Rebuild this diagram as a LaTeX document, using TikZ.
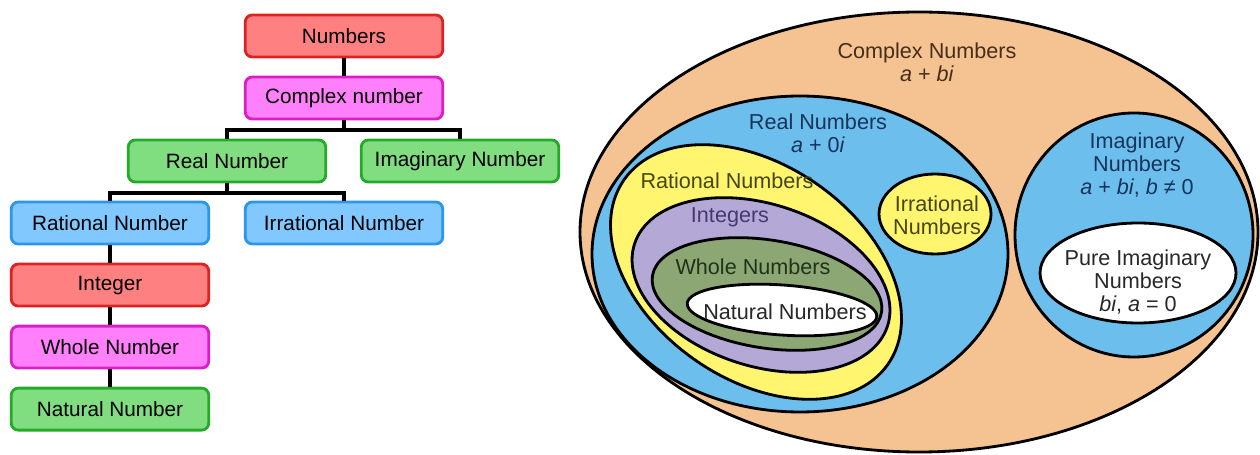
\documentclass[tikz,border=0pt]{standalone}
\usepackage{fontspec}
\setmainfont{Liberation Sans}
\usetikzlibrary{positioning}

\definecolor{boxred}{RGB}{255,128,128}
\definecolor{edgered}{RGB}{222,34,34}
\definecolor{boxpink}{RGB}{255,128,250}
\definecolor{edgepink}{RGB}{218,30,196}
\definecolor{boxgreen}{RGB}{128,222,128}
\definecolor{edgegreen}{RGB}{36,170,40}
\definecolor{boxblue}{RGB}{128,200,255}
\definecolor{edgeblue}{RGB}{44,150,232}
\definecolor{setorange}{RGB}{245,195,145}
\definecolor{setblue}{RGB}{108,190,236}
\definecolor{setyellow}{RGB}{255,245,110}
\definecolor{setpurple}{RGB}{180,168,214}
\definecolor{setgreen}{RGB}{140,166,116}
\definecolor{txtbrown}{RGB}{72,46,26}
\definecolor{txtblue}{RGB}{22,52,92}
\definecolor{txtolive}{RGB}{70,70,22}
\definecolor{txtpurple}{RGB}{70,56,112}
\definecolor{txtgreen}{RGB}{34,50,24}
\definecolor{txtgray}{RGB}{40,40,40}

\tikzset{
  box/.style={
    rectangle, rounded corners=4pt, minimum width=3.95cm, minimum height=0.84cm,
    line width=1.6pt, text centered, inner sep=2pt,
    font=\fontsize{11.8}{13}\selectfont, text=black
  },
  redbox/.style={box, draw=edgered, fill=boxred},
  pinkbox/.style={box, draw=edgepink, fill=boxpink},
  greenbox/.style={box, draw=edgegreen, fill=boxgreen},
  bluebox/.style={box, draw=edgeblue, fill=boxblue},
  link/.style={line width=2.3pt, draw=black},
  numset/.style={draw=black, line width=1.6pt},
  setlabel/.style={align=center, inner sep=0pt, font=\fontsize{12.3}{13.3}\selectfont}
}

\begin{document}
\begin{tikzpicture}[x=0.02cm, y=-0.02cm, node distance=0.345cm]
  \useasboundingbox (0,0) rectangle (1260,455);

  % tree of the number sets
  \node[redbox]                      (numbers)  at (344,36)  {Numbers};
  \node[pinkbox, below=of numbers]   (complex)                {Complex number};
  \node[greenbox]                    (real)     at (227,161) {Real Number};
  \node[greenbox]                    (imag)     at (460,161) {Imaginary Number};
  \node[bluebox]                     (rational) at (110,223) {Rational Number};
  \node[bluebox]                     (irrat)    at (344,223) {Irrational Number};
  \node[redbox, below=of rational]   (integer)                {Integer};
  \node[pinkbox, below=of integer]   (whole)                  {Whole Number};
  \node[greenbox, below=of whole]    (natural)                {Natural Number};

  \draw[link] (numbers) -- (complex);
  \draw[link] (complex.south) -- ++(0,10) -| (real.north);
  \draw[link] (complex.south) -- ++(0,10) -| (imag.north);
  \draw[link] (real.south) -- ++(0,10) -| (rational.north);
  \draw[link] (real.south) -- ++(0,10) -| (irrat.north);
  \draw[link] (rational) -- (integer);
  \draw[link] (integer) -- (whole);
  \draw[link] (whole) -- (natural);

  % nested sets
  \draw[numset, fill=setorange] (919,232) ellipse [x radius=339, y radius=220];
  \draw[numset, fill=setblue]   (800,254) ellipse [x radius=208, y radius=158];
  \draw[numset, fill=setblue]   (1134,235) ellipse [x radius=119, y radius=122];
  \draw[numset, fill=setyellow, rotate around={-35:(756,272)}]
    (756,272) ellipse [x radius=161, y radius=107];
  \draw[numset, fill=setpurple, rotate around={-18:(761,285)}]
    (761,285) ellipse [x radius=133, y radius=81];
  \draw[numset, fill=setgreen, rotate around={-9:(767,294)}]
    (767,294) ellipse [x radius=116, y radius=54];
  \draw[numset, fill=white, rotate around={-4:(782,310)}]
    (782,310) ellipse [x radius=95, y radius=25];
  \draw[numset, fill=setyellow] (935,214) ellipse [x radius=56, y radius=40];
  \draw[numset, fill=white]     (1138,273) ellipse [x radius=98, y radius=50];

  \node[setlabel, text=txtbrown]  (lcomplex)  at (927,62)   {Complex Numbers\\\textit{a} + \textit{bi}};
  \node[setlabel, text=txtblue]   (lreal)     at (818,133)  {Real Numbers\\\textit{a} + 0\textit{i}};
  \node[setlabel, text=txtolive]  (lrational) at (727,181)  {Rational Numbers};
  \node[setlabel, text=txtpurple] (linteger)  at (730,217)  {Integers};
  \node[setlabel, text=txtgreen]  (lwhole)    at (753,267)  {Whole Numbers};
  \node[setlabel, text=txtgray]   (lnatural)  at (785,312)  {Natural Numbers};
  \node[setlabel, text=txtolive]  (lirrat)    at (937,215)  {Irrational\\Numbers};
  \node[setlabel, text=txtblue]   (limag)     at (1137,165) {Imaginary\\Numbers\\\textit{a} + \textit{bi}, \textit{b} ≠ 0};
  \node[setlabel, text=txtgray]   (lpure)     at (1138,282) {Pure Imaginary\\Numbers\\\textit{bi}, \textit{a} = 0};
\end{tikzpicture}
\end{document}
